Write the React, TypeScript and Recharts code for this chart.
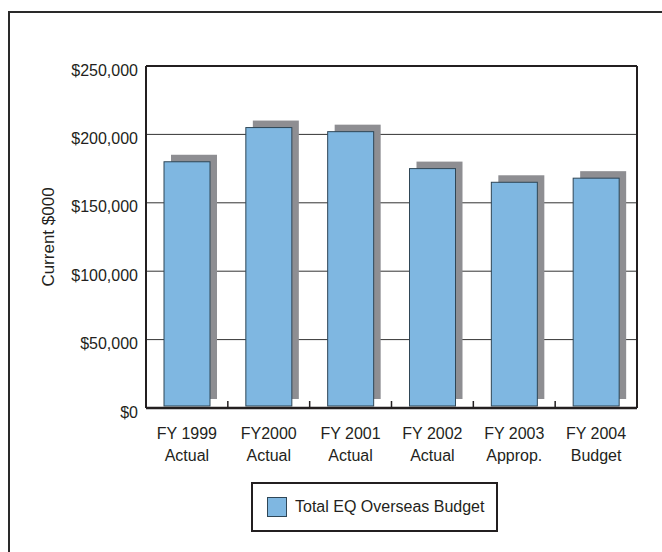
import { Bar, BarChart, CartesianGrid, Legend, XAxis, YAxis } from "recharts";

const fiscalYears = ["FY 1999", "FY2000", "FY 2001", "FY 2002", "FY 2003", "FY 2004"];
const stages = ["Actual", "Actual", "Actual", "Actual", "Approp.", "Budget"];
const overseasBudget = [180000, 205000, 202000, 175000, 165000, 168000];
const yTicks = [0, 50000, 100000, 150000, 200000, 250000];

const BLUE = "#7fb7e1";
const EDGE = "#2f4656";
const SHADOW = "#8e8e92";
const INK = "#231f20";
const FONT = '"Liberation Sans", Arial, sans-serif';

const data = fiscalYears.map((fy, i) => ({ fy, stage: stages[i], budget: overseasBudget[i] }));

function ShadowBar(props: any) {
  const { x, y, width, height } = props;
  const h = Math.max(height - 2, 0);
  return (
    <g>
      <rect x={x + 7} y={y - 7} width={width} height={h} fill={SHADOW} />
      <rect x={x} y={y} width={width} height={h} fill={BLUE} stroke={EDGE} strokeWidth={1} />
    </g>
  );
}

// two-line category label, plus a short upward tick at the left edge of each band
function YearTick({ x, y, payload, index, width, visibleTicksCount }: any) {
  const i = fiscalYears.indexOf(payload.value);
  const half = payload.offset || width / visibleTicksCount / 2;
  const edge = x - half;
  return (
    <g>
      {index > 0 && <line x1={edge} x2={edge} y1={y} y2={y - 7} stroke={INK} strokeWidth={1.5} />}
      <text textAnchor="middle" fill={INK} fontSize={16} fontFamily={FONT}>
        <tspan x={x} y={y + 31}>{fiscalYears[i]}</tspan>
        <tspan x={x} y={y + 53}>{stages[i]}</tspan>
      </text>
    </g>
  );
}

function NoLabel() {
  return <g />;
}

function DollarTick({ x, y, payload }: any) {
  return (
    <text x={x} y={y + 4} dy="0.355em" textAnchor="end" fill={INK} fontSize={16} fontFamily={FONT}>
      {"$" + Number(payload.value).toLocaleString("en-US")}
    </text>
  );
}

function AxisTitle({ viewBox }: any) {
  const cy = viewBox.y + viewBox.height / 2;
  return (
    <text x={48} y={cy} transform={`rotate(-90 48 ${cy})`} dy="0.355em" textAnchor="middle" fill={INK} fontSize={17} fontFamily={FONT}>
      Current $000
    </text>
  );
}

function LegendBox({ payload }: any) {
  const item = payload && payload[0];
  return (
    <div
      style={{
        boxSizing: "border-box",
        width: 247,
        height: 50,
        border: `2px solid ${INK}`,
        display: "flex",
        alignItems: "center",
        paddingLeft: 14,
        fontFamily: FONT,
        fontSize: 16,
        color: INK,
        background: "#fff",
      }}
    >
      <span style={{ boxSizing: "border-box", width: 20, height: 20, background: BLUE, border: `1px solid ${EDGE}`, marginRight: 8 }} />
      <span>{item ? item.value : "Total EQ Overseas Budget"}</span>
    </div>
  );
}

export default function App() {
  return (
    <div style={{ position: "fixed", left: 0, top: 0, width: 662, height: 552, background: "#fff", overflow: "hidden" }}>
      <div style={{ position: "absolute", left: 8, top: 11, width: 700, height: 600, borderLeft: "2px solid #2a2a2a", borderTop: "2px solid #2a2a2a" }} />
      <BarChart width={662} height={552} data={data} margin={{ top: 65, right: 24, bottom: 143, left: 0 }}>
        <CartesianGrid xAxisId="cat" yAxisId="left" vertical={false} stroke="#333" strokeWidth={1} />
        <YAxis
          yAxisId="left"
          width={146}
          domain={[0, 250000]}
          ticks={yTicks}
          tickLine={false}
          axisLine={{ stroke: INK, strokeWidth: 2 }}
          tick={<DollarTick />}
          label={<AxisTitle />}
        />
        <YAxis yAxisId="right" orientation="right" width={1} tick={<NoLabel />} tickLine={false} axisLine={{ stroke: INK, strokeWidth: 2 }} />
        <XAxis xAxisId="top" orientation="top" height={1} tick={<NoLabel />} tickLine={false} axisLine={{ stroke: INK, strokeWidth: 2 }} />
        <Bar
          xAxisId="cat"
          yAxisId="left"
          dataKey="budget"
          name="Total EQ Overseas Budget"
          fill={BLUE}
          barSize={46}
          shape={<ShadowBar />}
          isAnimationActive={false}
        />
        <XAxis
          xAxisId="cat"
          dataKey="fy"
          height={1}
          interval={0}
          tickSize={0}
          tickMargin={0}
          tickLine={false}
          axisLine={{ stroke: INK, strokeWidth: 2.5 }}
          tick={<YearTick />}
        />
        <Legend
          layout="horizontal"
          verticalAlign="middle"
          align="center"
          wrapperStyle={{ left: 251, top: 482, width: 247, height: 50 }}
          content={<LegendBox />}
        />
      </BarChart>
    </div>
  );
}
